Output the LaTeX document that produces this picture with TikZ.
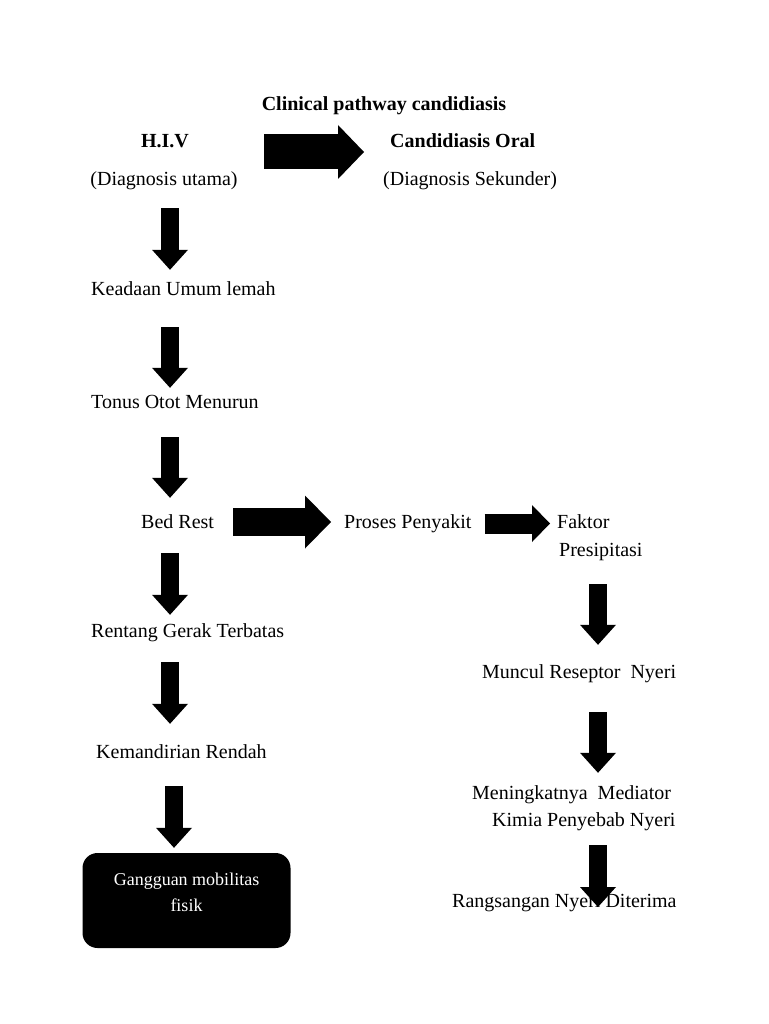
\documentclass[tikz,border=0pt]{standalone}
\usepackage{fontspec}
\setmainfont{Liberation Serif}
\usepackage{tikz}
\usetikzlibrary{arrows.meta}

\begin{document}
\begin{tikzpicture}[x=1pt,y=-1pt]
    \tikzstyle{plain}=[inner sep=0pt,text height=14pt,text depth=5pt,font=\fontsize{20}{24}\selectfont]
    \tikzstyle{head}=[plain,font=\fontsize{20}{24}\selectfont\bfseries]
    \tikzstyle{left text}=[plain,anchor=base west]
    \tikzstyle{result box}=[rectangle,rounded corners=15pt,fill=black,text=white,minimum width=208pt,minimum height=95pt,align=center,text depth=17pt,font=\fontsize{18}{26}\selectfont]
    \tikzstyle{down arrow}=[line width=18pt,-{Triangle[width=36pt 0 0,length=20pt 0 0,line width=0pt 0 0]}]
    \tikzstyle{wide arrow}=[line width=35pt,-{Triangle[width=54pt 0 0,length=26pt 0 0,line width=0pt 0 0]}]
    \tikzstyle{mid arrow}=[line width=28pt,-{Triangle[width=53pt 0 0,length=26pt 0 0,line width=0pt 0 0]}]
    \tikzstyle{small arrow}=[line width=20pt,-{Triangle[width=37pt 0 0,length=18pt 0 0,line width=0pt 0 0]}]

    \fill[white] (0,0) rectangle (768,1024);
    \useasboundingbox (0,0) rectangle (768,1024);

    % Title and diagnoses
    \node[head,anchor=base] (title) at (384,111) {Clinical pathway candidiasis};
    \node[head,anchor=base] (hiv) at (165,148) {H.I.V};
    \node[plain,anchor=base] (diagU) at (164,186) {(Diagnosis utama)};
    \node[head,anchor=base west] (cand) at (390,148) {Candidiasis Oral};
    \node[left text] (diagS) at (383,186) {(Diagnosis Sekunder)};

    % Left column
    \node[left text] (keadaan) at (91,295) {Keadaan Umum lemah};
    \node[left text] (tonus) at (91,408) {Tonus Otot Menurun};
    \node[left text] (bedrest) at (141,528) {Bed Rest};
    \node[left text] (rentang) at (91,637) {Rentang Gerak Terbatas};
    \node[left text] (mandiri) at (96,758) {Kemandirian Rendah};
    \node[result box] (gangguan) at (186.5,900.5) {Gangguan mobilitas\\fisik};

    % Right column
    \node[left text] (proses) at (344,528) {Proses Penyakit};
    \node[left text] (faktor) at (557,528) {Faktor};
    \node[left text] (presip) at (559,556) {Presipitasi};
    \node[left text] (muncul) at (482,678) {Muncul Reseptor\ \ Nyeri};
    \node[left text] (mening) at (472,799) {Meningkatnya\ \ Mediator};
    \node[left text] (kimia) at (492,826) {Kimia Penyebab Nyeri};
    \node[left text] (rangsang) at (452,907) {Rangsangan Nyeri Diterima};

    % Arrow columns
    \coordinate (lc) at (170,0);
    \coordinate (bc) at (174,0);
    \coordinate (rc) at (598,0);

    % Draw the arrows
    \path ([yshift=-8.5pt]hiv.east) edge[wide arrow,shorten <=75pt,shorten >=26pt] ([yshift=-8.5pt]cand.west);
    \path (diagU.south -| lc) edge[down arrow,shorten <=17pt,shorten >=11pt] (keadaan.north -| lc);
    \path (keadaan.south -| lc) edge[down arrow,shorten <=27pt,shorten >=6pt] (tonus.north -| lc);
    \path (tonus.south -| lc) edge[down arrow,shorten <=24pt,shorten >=16pt] (bedrest.north -| lc);
    \path (bedrest.south -| lc) edge[down arrow,shorten <=20pt,shorten >=8pt] (rentang.north -| lc);
    \path (rentang.south -| lc) edge[down arrow,shorten <=20pt,shorten >=20pt] (mandiri.north -| lc);
    \path (mandiri.south -| bc) edge[down arrow,shorten <=23pt,shorten >=5pt] (gangguan.north -| bc);
    \path ([yshift=1.5pt]bedrest.east) edge[mid arrow,shorten <=19pt,shorten >=13pt] ([yshift=1.5pt]proses.west);
    \path (proses.east) edge[small arrow,shorten <=13pt,shorten >=7pt] (faktor.west);
    \path (presip.south -| rc) edge[down arrow,shorten <=23pt,shorten >=19pt] (muncul.north -| rc);
    \path (muncul.south -| rc) edge[down arrow,shorten <=29pt,shorten >=12pt] (mening.north -| rc);
    \path (kimia.south -| rc) edge[down arrow,shorten <=14pt] (rangsang.base -| rc);
\end{tikzpicture}
\end{document}
